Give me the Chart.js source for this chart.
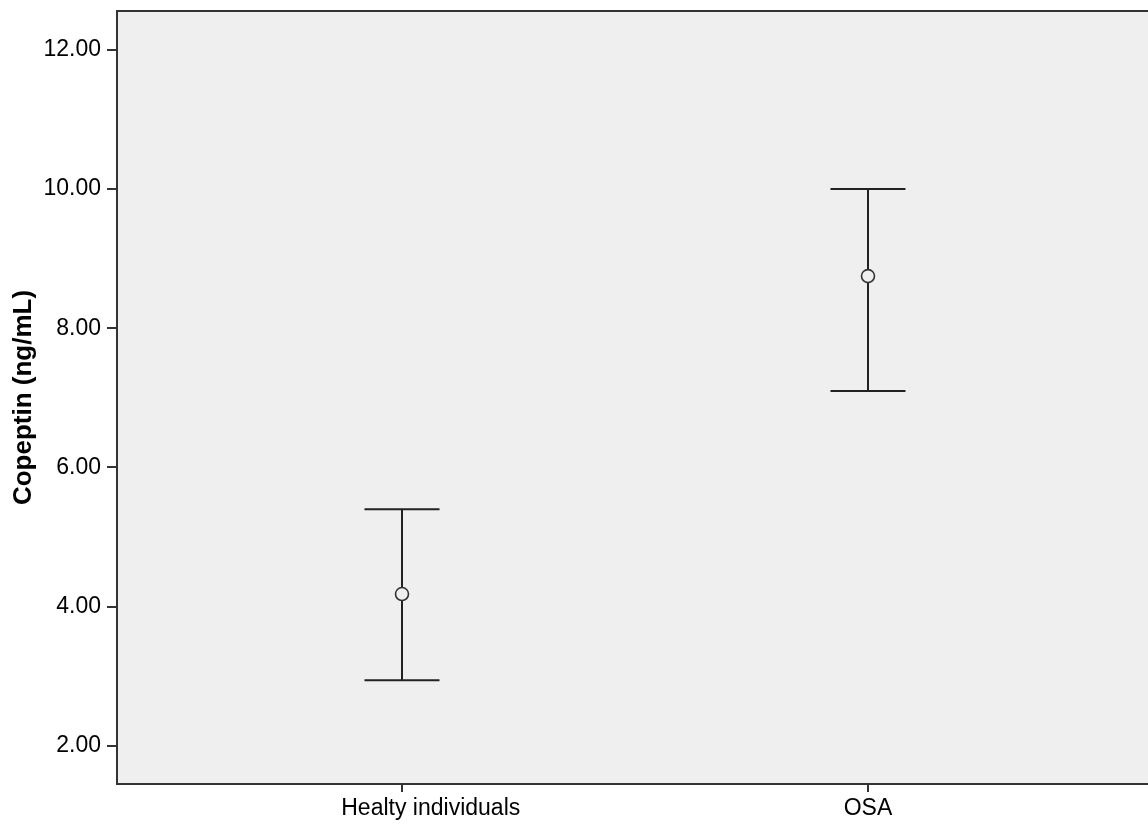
<!DOCTYPE html>
<html>
<head>
<meta charset="utf-8">
<script src="https://cdn.jsdelivr.net/npm/chart.js@4.4.1/dist/chart.umd.min.js"></script>
<style>
  body { margin: 0; background: #fff; }
  #wrap { width: 1148px; height: 825px; }
</style>
</head>
<body>
<div id="wrap"><canvas id="copeptinChart" width="1148" height="825"></canvas></div>
<script>
// datos
const groups = ['Healty individuals', 'OSA'];
const means = [4.18, 8.75];
const lowerCI = [2.94, 7.10];
const upperCI = [5.40, 10.00];
const yTicks = [2, 4, 6, 8, 10, 12];

const axisColor = '#333333';
const plotBg = '#efefef';
const fontFamily = '"Liberation Sans", Arial, sans-serif';

// fondo gris y borde superior del area de grafico
const framePlugin = {
  id: 'frame',
  beforeDraw(chart) {
    const { ctx, chartArea } = chart;
    ctx.save();
    ctx.fillStyle = plotBg;
    ctx.fillRect(chartArea.left, chartArea.top, chartArea.right - chartArea.left, chartArea.bottom - chartArea.top);
    ctx.restore();
  },
  afterDraw(chart) {
    const { ctx, chartArea } = chart;
    ctx.save();
    ctx.strokeStyle = axisColor;
    ctx.lineWidth = 2;
    ctx.beginPath();
    ctx.moveTo(chartArea.left, chartArea.top);
    ctx.lineTo(chartArea.right, chartArea.top);
    ctx.stroke();
    ctx.restore();
  }
};

const whiskers = groups.map((g, i) => ({
  data: [{ x: i, y: lowerCI[i] }, { x: i, y: upperCI[i] }],
  showLine: true,
  pointRadius: 0,
  borderColor: '#222',
  borderWidth: 2,
}));

const caps = {
  data: groups.flatMap((g, i) => [{ x: i, y: lowerCI[i] }, { x: i, y: upperCI[i] }]),
  pointStyle: 'line',
  pointRadius: 37.5,
  borderColor: '#222',
  borderWidth: 2,
};

const meanPoints = {
  data: groups.map((g, i) => ({ x: i, y: means[i] })),
  pointStyle: 'circle',
  pointRadius: 6.5,
  backgroundColor: plotBg,
  borderColor: axisColor,
  borderWidth: 1.6,
};

const ctx = document.getElementById('copeptinChart').getContext('2d');
new Chart(ctx, {
  type: 'scatter',
  data: { datasets: [meanPoints, caps, ...whiskers] },
  plugins: [framePlugin],
  options: {
    responsive: false,
    animation: false,
    layout: { autoPadding: false, padding: { top: 11, right: 0, left: 0, bottom: 0 } },
    plugins: { legend: { display: false }, tooltip: { enabled: false } },
    scales: {
      x: {
        type: 'linear',
        min: -0.6116,
        max: 1.6009,
        afterBuildTicks: scale => { scale.ticks = groups.map((g, i) => ({ value: i })); },
        afterFit: scale => {
          scale.height = 41;
          scale.paddingLeft = 0;
          scale.paddingRight = 0;
        },
        ticks: {
          autoSkip: false,
          maxRotation: 0,
          padding: 3,
          color: '#000',
          font: { family: fontFamily, size: 23 },
          // la etiqueta de la izquierda aparece algo desplazada a la derecha en el original
          callback: value => (value === 0 ? '         ' : '') + groups[value],
        },
        grid: { display: true, drawOnChartArea: false, drawTicks: true, tickLength: 8, color: axisColor, lineWidth: 2 },
        border: { display: true, color: axisColor, width: 2 },
      },
      y: {
        min: 1.45,
        max: 12.56,
        afterBuildTicks: scale => { scale.ticks = yTicks.map(v => ({ value: v })); },
        afterFit: scale => {
          scale.width = 117;
          scale.paddingTop = 0;
          scale.paddingBottom = 0;
        },
        ticks: {
          padding: 6,
          color: '#000',
          font: { family: fontFamily, size: 23 },
          callback: value => value.toFixed(2),
        },
        grid: { display: true, drawOnChartArea: false, drawTicks: true, tickLength: 10, color: axisColor, lineWidth: 2 },
        border: { display: true, color: axisColor, width: 2 },
        title: {
          display: true,
          text: 'Copeptin (ng/mL)',
          color: '#000',
          font: { family: fontFamily, size: 26, weight: 'bold' },
          padding: { top: 8, bottom: 0 },
        },
      },
    },
  },
});
</script>
</body>
</html>
